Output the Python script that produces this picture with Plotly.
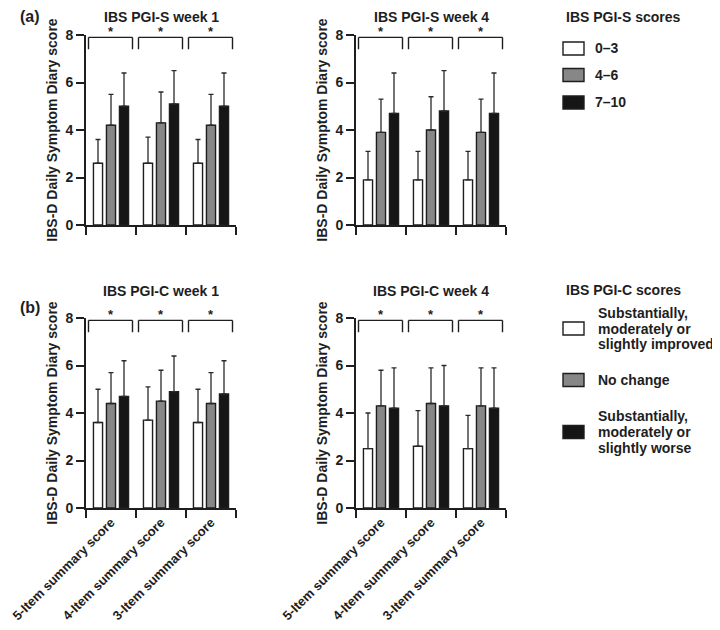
import plotly.graph_objects as go

# ---------------- data ----------------
categories = ["5-Item summary score", "4-Item summary score", "3-Item summary score"]

# IBS PGI-S week 1 (mean, SD)
s1_low_mean = [2.6, 2.6, 2.6]
s1_low_sd = [1.0, 1.1, 1.0]
s1_mid_mean = [4.2, 4.3, 4.2]
s1_mid_sd = [1.3, 1.3, 1.3]
s1_high_mean = [5.0, 5.1, 5.0]
s1_high_sd = [1.4, 1.4, 1.4]

# IBS PGI-S week 4
s4_low_mean = [1.9, 1.9, 1.9]
s4_low_sd = [1.2, 1.2, 1.2]
s4_mid_mean = [3.9, 4.0, 3.9]
s4_mid_sd = [1.4, 1.4, 1.4]
s4_high_mean = [4.7, 4.8, 4.7]
s4_high_sd = [1.7, 1.7, 1.7]

# IBS PGI-C week 1
c1_imp_mean = [3.6, 3.7, 3.6]
c1_imp_sd = [1.4, 1.4, 1.4]
c1_none_mean = [4.4, 4.5, 4.4]
c1_none_sd = [1.3, 1.3, 1.3]
c1_worse_mean = [4.7, 4.9, 4.8]
c1_worse_sd = [1.5, 1.5, 1.4]

# IBS PGI-C week 4
c4_imp_mean = [2.5, 2.6, 2.5]
c4_imp_sd = [1.5, 1.5, 1.4]
c4_none_mean = [4.3, 4.4, 4.3]
c4_none_sd = [1.5, 1.5, 1.6]
c4_worse_mean = [4.2, 4.3, 4.2]
c4_worse_sd = [1.7, 1.7, 1.7]

significance = ["*", "*", "*"]

panel_titles = ["IBS PGI-S week 1", "IBS PGI-S week 4", "IBS PGI-C week 1", "IBS PGI-C week 4"]
panel_letters = ["(a)", "(b)"]
y_title = "IBS-D Daily Symptom Diary score"
y_ticks = [0, 2, 4, 6, 8]

pgis_legend_title = "IBS PGI-S scores"
pgis_labels = ["0\u20133", "4\u20136", "7\u201310"]
pgic_legend_title = "IBS PGI-C scores"
pgic_labels = [
    ["Substantially,", "moderately or", "slightly improved"],
    ["No change"],
    ["Substantially,", "moderately or", "slightly worse"],
]

# ---------------- styles ----------------
# The page body has an 8px default margin, so the figure is sized to fit the
# 720x630 window and all target window-pixel positions are shifted by 8px.
OFF = 8
W, H = 720 - OFF, 630 - OFF
FONT = "Liberation Sans, Arial, sans-serif"
INK = "#1e1e1e"
fills = ["#ffffff", "#878787", "#161616"]

def px_x(p):
    return (p - OFF) / W

def px_y(p):
    return 1 - (p - OFF) / H

panels = [
    dict(x=(86, 236), y=(35, 225), series=[(s1_low_mean, s1_low_sd), (s1_mid_mean, s1_mid_sd), (s1_high_mean, s1_high_sd)]),
    dict(x=(356, 506), y=(35, 225), series=[(s4_low_mean, s4_low_sd), (s4_mid_mean, s4_mid_sd), (s4_high_mean, s4_high_sd)]),
    dict(x=(86, 236), y=(318, 508), series=[(c1_imp_mean, c1_imp_sd), (c1_none_mean, c1_none_sd), (c1_worse_mean, c1_worse_sd)]),
    dict(x=(356, 506), y=(318, 508), series=[(c4_imp_mean, c4_imp_sd), (c4_none_mean, c4_none_sd), (c4_worse_mean, c4_worse_sd)]),
]
title_y = [17, 17, 291, 291]

fig = go.Figure()
layout = dict()
shapes = []
annotations = []

for i, p in enumerate(panels):
    n = i + 1
    xa = "x" if n == 1 else f"x{n}"
    ya = "y" if n == 1 else f"y{n}"
    for k, (m, sd) in enumerate(p["series"]):
        fig.add_trace(go.Bar(
            x=categories, y=m, xaxis=xa, yaxis=ya,
            offsetgroup=str(k), showlegend=False,
            marker=dict(color=fills[k], line=dict(color=INK, width=1.4)),
            error_y=dict(type="data", symmetric=False, array=sd, arrayminus=[0] * len(sd),
                         color="#2a2a2a", thickness=1.3, width=2.5),
        ))
    bottom = i >= 2
    layout["xaxis" if n == 1 else f"xaxis{n}"] = dict(
        domain=[px_x(p["x"][0]), px_x(p["x"][1])], anchor=ya, type="category",
        range=[-0.5, 2.5], showline=True, linecolor=INK, linewidth=1.6,
        ticks="outside", tickson="boundaries", ticklen=8, tickwidth=1.6, tickcolor=INK,
        showticklabels=bottom, tickangle=-45, automargin=False,
        tickfont=dict(family=FONT, size=13, color=INK, weight="bold"),
        showgrid=False, zeroline=False, fixedrange=True,
    )
    layout["yaxis" if n == 1 else f"yaxis{n}"] = dict(
        domain=[px_y(p["y"][1]), px_y(p["y"][0])], anchor=xa,
        range=[0, 8], tickvals=y_ticks, showline=True, linecolor=INK, linewidth=1.6,
        ticks="outside", ticklen=8, tickwidth=1.6, tickcolor=INK, automargin=False,
        tickfont=dict(family=FONT, size=14, color=INK, weight="bold"),
        title=dict(text=y_title, standoff=5, font=dict(family=FONT, size=14, color=INK, weight="bold")),
        showgrid=False, zeroline=False, fixedrange=True,
    )
    # panel title
    annotations.append(dict(
        text=panel_titles[i], xref="paper", yref="paper",
        x=px_x((p["x"][0] + p["x"][1]) / 2), y=px_y(title_y[i]),
        xanchor="center", yanchor="middle", showarrow=False,
        font=dict(family=FONT, size=14, color=INK, weight="bold"),
    ))
    # significance brackets
    for g, star in enumerate(significance):
        x0, x1 = g - 0.45, g + 0.43
        for (a0, b0, a1, b1) in [(x0, 7.4, x0, 7.9), (x0, 7.9, x1, 7.9), (x1, 7.9, x1, 7.4)]:
            shapes.append(dict(type="line", xref=xa, yref=ya, x0=a0, y0=b0, x1=a1, y1=b1,
                               line=dict(color=INK, width=1.4)))
        annotations.append(dict(
            text=star, xref=xa, yref=f"{ya} domain", x=(x0 + x1) / 2, y=1.018,
            xanchor="center", yanchor="middle", showarrow=False,
            font=dict(family=FONT, size=13, color=INK, weight="bold"),
        ))

# panel letters
for letter, ypx in zip(panel_letters, [17, 307]):
    annotations.append(dict(
        text=letter, xref="paper", yref="paper", x=px_x(30), y=px_y(ypx),
        xanchor="center", yanchor="middle", showarrow=False,
        font=dict(family=FONT, size=16, color=INK, weight="bold"),
    ))

# legend (a)
annotations.append(dict(
    text=pgis_legend_title, xref="paper", yref="paper", x=px_x(564), y=px_y(17),
    xanchor="left", yanchor="middle", showarrow=False,
    font=dict(family=FONT, size=14, color=INK, weight="bold"),
))
for k, (lab, cy) in enumerate(zip(pgis_labels, [48.5, 75, 102.5])):
    shapes.append(dict(type="rect", xref="paper", yref="paper",
                       x0=px_x(563), x1=px_x(584), y0=px_y(cy - 6.5), y1=px_y(cy + 6.5),
                       fillcolor=fills[k], line=dict(color=INK, width=1.4)))
    annotations.append(dict(
        text=lab, xref="paper", yref="paper", x=px_x(593), y=px_y(cy),
        xanchor="left", yanchor="middle", showarrow=False,
        font=dict(family=FONT, size=14, color=INK, weight="bold"),
    ))

# legend (b)
annotations.append(dict(
    text=pgic_legend_title, xref="paper", yref="paper", x=px_x(564), y=px_y(290),
    xanchor="left", yanchor="middle", showarrow=False,
    font=dict(family=FONT, size=14, color=INK, weight="bold"),
))
LINE_GAP = 15.6
for k, (lines, cy) in enumerate(zip(pgic_labels, [328.5, 380, 432])):
    shapes.append(dict(type="rect", xref="paper", yref="paper",
                       x0=px_x(563), x1=px_x(584), y0=px_y(cy - 6.5), y1=px_y(cy + 6.5),
                       fillcolor=fills[k], line=dict(color=INK, width=1.4)))
    nl = len(lines)
    for j, line in enumerate(lines):
        ly = cy + (j - (nl - 1) / 2) * LINE_GAP
        annotations.append(dict(
            text=line, xref="paper", yref="paper", x=px_x(596), y=px_y(ly),
            xanchor="left", yanchor="middle", showarrow=False,
            font=dict(family=FONT, size=14, color=INK, weight="bold"),
        ))

fig.update_layout(
    **layout,
    width=W, height=H, autosize=False,
    margin=dict(l=0, r=0, t=0, b=0, autoexpand=False),
    paper_bgcolor="white", plot_bgcolor="white",
    barmode="group", bargap=0.22, bargroupgap=0.3,
    shapes=shapes, annotations=annotations,
    font=dict(family=FONT, color=INK),
    showlegend=False,
)

fig.write_html("out.html")
